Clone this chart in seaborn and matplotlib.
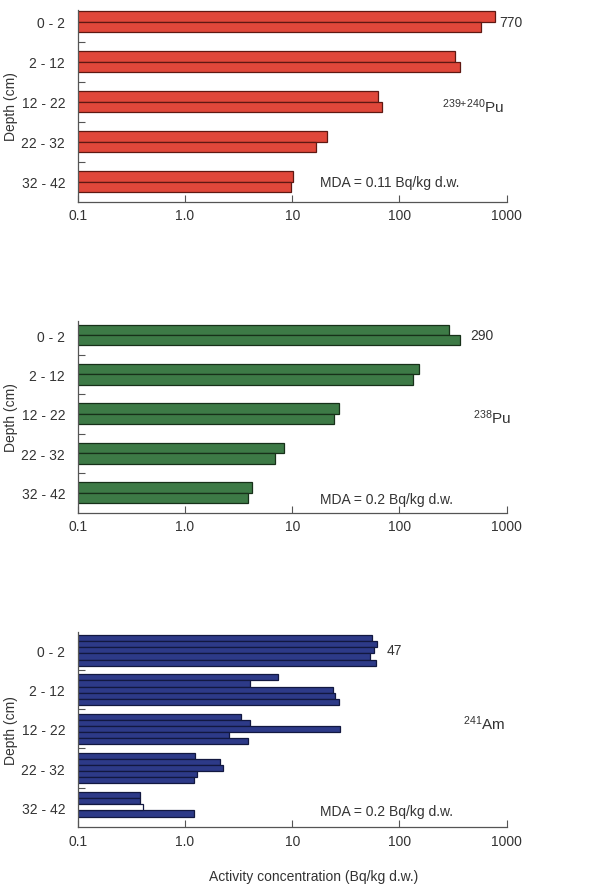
import numpy as np
import pandas as pd
import matplotlib
matplotlib.use("Agg")
import matplotlib.pyplot as plt
from matplotlib.ticker import FixedLocator, FixedFormatter, NullLocator
import seaborn as sns

# Depth intervals of the soil cores
depths = ["0 - 2", "2 - 12", "12 - 22", "22 - 32", "32 - 42"]

# 239+240Pu, two cores (Bq/kg d.w.)
pu239_core1 = [770, 330, 62.7, 21.1, 10.2]
pu239_core2 = [570, 367, 68.3, 16.7, 9.7]

# 238Pu, two cores (Bq/kg d.w.)
pu238_core1 = [290, 153, 27.3, 8.4, 4.2]
pu238_core2 = [370, 135, 24.7, 6.9, 3.9]

# 241Am, five cores (Bq/kg d.w.); NaN = no sample
am241_core1 = [55.9, 7.3, 3.3, 1.24, 0.38]
am241_core2 = [62.3, 4.0, 4.0, 2.1, 0.38]
am241_core3 = [57.9, 23.8, 28.0, 2.28, 0.41]
am241_core4 = [53.2, 25.0, 2.6, 1.30, 1.22]
am241_core5 = [60.0, 27.5, 3.85, 1.21, np.nan]
# samples drawn as open (unfilled) bars
am241_open = [(4, 2)]  # (depth index, core index)

x_ticks = [0.1, 1, 10, 100, 1000]
x_tick_labels = ["0.1", "1.0", "10", "100", "1000"]

sns.set_theme(style="white")
plt.rcParams["font.family"] = ["Liberation Sans", "DejaVu Sans"]
plt.rcParams["mathtext.fontset"] = "custom"
plt.rcParams["mathtext.rm"] = "Liberation Sans"
plt.rcParams["mathtext.it"] = "Liberation Sans:italic"
plt.rcParams["mathtext.bf"] = "Liberation Sans:bold"

TEXT = "#333333"
AXIS = "#555555"
W, H = 594, 887


def make_frame(series, open_cells=()):
    rows = []
    for ci, vals in enumerate(series):
        for di, v in enumerate(vals):
            is_open = (di, ci) in open_cells
            rows.append(dict(depth=depths[di], core=f"core {ci + 1}",
                             value=v, filled=np.nan if is_open else v,
                             hollow=v if is_open else np.nan))
    return pd.DataFrame(rows)


def panel_axes(fig, top_px, bottom_px, left_px=77.7, right_px=506.7):
    return fig.add_axes([left_px / W, 1 - bottom_px / H,
                         (right_px - left_px) / W, (bottom_px - top_px) / H])


def draw_panel(ax, df, face, edge, width, ylim):
    cores = sorted(df["core"].unique(), key=lambda s: int(s.split()[1]))
    sns.barplot(data=df, x="filled", y="depth", hue="core", order=depths,
                hue_order=cores, palette={c: face for c in cores},
                orient="h", width=width, dodge=True, errorbar=None,
                edgecolor=edge, linewidth=0.9, saturation=1,
                legend=False, ax=ax)
    if df["hollow"].notna().any():
        sns.barplot(data=df, x="hollow", y="depth", hue="core", order=depths,
                    hue_order=cores, palette={c: "white" for c in cores},
                    orient="h", width=width, dodge=True, errorbar=None,
                    edgecolor=edge, linewidth=0.9, saturation=1,
                    legend=False, ax=ax)
    ax.set_xscale("log")
    ax.set_xlim(0.1, 1000)
    ax.set_ylim(*ylim)
    ax.xaxis.set_major_locator(FixedLocator(x_ticks))
    ax.xaxis.set_major_formatter(FixedFormatter(x_tick_labels))
    ax.xaxis.set_minor_locator(NullLocator())
    ax.yaxis.set_minor_locator(FixedLocator([0.5, 1.5, 2.5, 3.5]))
    ax.tick_params(axis="x", which="major", direction="in", length=5,
                   width=0.8, color=AXIS, labelsize=10, labelcolor=TEXT, pad=5,
                   bottom=True)
    ax.tick_params(axis="y", which="major", length=0, labelsize=10,
                   labelcolor=TEXT, pad=9)
    ax.tick_params(axis="y", which="minor", direction="in", length=5,
                   width=0.8, color=AXIS, left=True)
    for side in ("top", "right"):
        ax.spines[side].set_visible(False)
    for side in ("left", "bottom"):
        ax.spines[side].set_color(AXIS)
        ax.spines[side].set_linewidth(0.9)
    ax.set_xlabel("")
    ax.set_ylabel("Depth (cm)", fontsize=10, color=TEXT)
    ax.yaxis.set_label_coords(-0.14, 0.5)


fig = plt.figure(figsize=(W / 100, H / 100), dpi=100)
fig.patch.set_facecolor("white")

# 239+240Pu
ax1 = panel_axes(fig, 10.7, 202.5)
draw_panel(ax1, make_frame([pu239_core1, pu239_core2]),
           "#e0473a", "#5e1812", 0.53, (4.5, -0.3))
ax1.text(pu239_core1[0] * 1.1, 0, f"{pu239_core1[0]:g}", va="center",
         ha="left", fontsize=10, color=TEXT)
ax1.text(248, 2.1, r"$^{239{+}240}$Pu", va="center", ha="left",
         fontsize=11, color=TEXT)
ax1.text(18, 4.0, "MDA = 0.11 Bq/kg d.w.", va="center", ha="left",
         fontsize=10, color=TEXT)

# 238Pu
ax2 = panel_axes(fig, 322.2, 513.5)
draw_panel(ax2, make_frame([pu238_core1, pu238_core2]),
           "#3d7a46", "#173019", 0.53, (4.5, -0.35))
ax2.text(pu238_core2[0] * 1.23, 0, f"{pu238_core1[0]:g}", va="center",
         ha="left", fontsize=10, color=TEXT)
ax2.text(485, 2.08, r"$^{238}$Pu", va="center", ha="left",
         fontsize=11, color=TEXT)
ax2.text(18, 4.16, "MDA = 0.2 Bq/kg d.w.", va="center", ha="left",
         fontsize=10, color=TEXT)

# 241Am
ax3 = panel_axes(fig, 632.9, 828.0)
draw_panel(ax3, make_frame([am241_core1, am241_core2, am241_core3,
                            am241_core4, am241_core5], am241_open),
           "#2d3a88", "#121840", 0.78, (4.5, -0.47))
ax3.text(76, 0, "47", va="center", ha="left", fontsize=10, color=TEXT)
ax3.text(392, 1.85, r"$^{241}$Am", va="center", ha="left",
         fontsize=11, color=TEXT)
ax3.text(18, 4.09, "MDA = 0.2 Bq/kg d.w.", va="center", ha="left",
         fontsize=10, color=TEXT)
ax3.set_xlabel("Activity concentration (Bq/kg d.w.)", fontsize=10, color=TEXT)
ax3.xaxis.set_label_coords(0.55, -0.215)

fig.savefig("out.png", dpi=100, facecolor="white")
